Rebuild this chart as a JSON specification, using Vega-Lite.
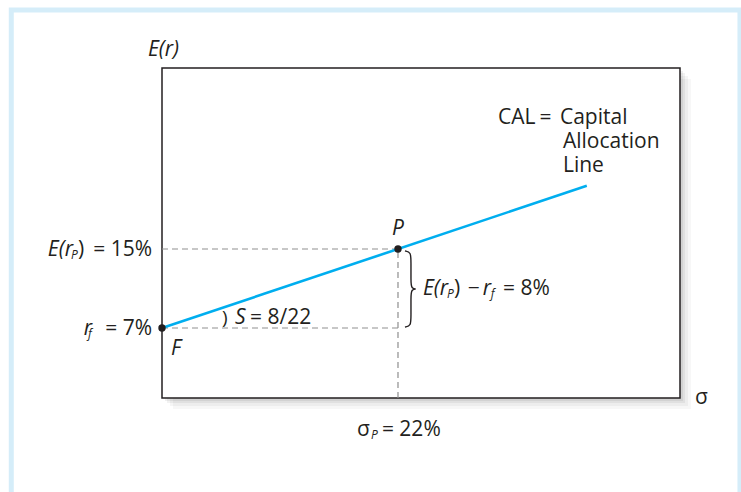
{
  "$schema": "https://vega.github.io/schema/vega-lite/v6.json",
  "width": 518,
  "height": 330,
  "autosize": {"type": "none"},
  "padding": {"left": 162, "top": 68, "right": 61, "bottom": 94},
  "background": "white",
  "config": {"view": {"stroke": null}},
  "datasets": {
    "frame": [{"s": -14.05, "s2": 53.88, "r": 39.2, "r2": -10.1}],
    "box": [{"s": 0, "s2": 48.29, "r": -0.09, "r2": 33.33}],
    "dash": [
      {"s": 0, "s2": 22, "r": 15, "r2": 15},
      {"s": 0, "s2": 22, "r": 7, "r2": 7},
      {"s": 22, "s2": 22, "r": -0.09, "r2": 15}
    ],
    "cal": [{"s": 0, "r": 7}, {"s": 39.6, "r": 21.4}],
    "brace": [
      {"i": 0, "s": 22.65, "r": 14.8},
      {"i": 1, "s": 23.21, "r": 14.7},
      {"i": 2, "s": 23.21, "r": 13.68},
      {"i": 3, "s": 23.21, "r": 11.86},
      {"i": 4, "s": 23.21, "r": 10.95},
      {"i": 5, "s": 23.87, "r": 10.95},
      {"i": 6, "s": 23.21, "r": 10.95},
      {"i": 7, "s": 23.21, "r": 10.04},
      {"i": 8, "s": 23.21, "r": 8.22},
      {"i": 9, "s": 23.21, "r": 7.2},
      {"i": 10, "s": 22.65, "r": 7.1}
    ],
    "pts": [{"s": 0, "r": 7}, {"s": 22, "r": 15}],
    "italicLeft": [
      {"t": "E(r", "s": 24.33, "r": 10.95},
      {"t": "r", "s": 29.9, "r": 10.95},
      {"t": "S", "s": 6.81, "r": 8.01},
      {"t": "F", "s": 0.84, "r": 4.87}
    ],
    "italicCenter": [
      {"t": "E(r)", "s": 0.14, "r": 35.15},
      {"t": "P", "s": 22.0, "r": 17.03}
    ],
    "italicRight": [
      {"t": "E(r", "s": -8.3, "r": 14.9},
      {"t": "r", "s": -6.53, "r": 6.9}
    ],
    "sub": [
      {"t": "P", "s": -8.48, "r": 14.39},
      {"t": "f", "s": -6.9, "r": 6.39},
      {"t": "P", "s": 26.57, "r": 10.44},
      {"t": "f", "s": 30.65, "r": 10.44},
      {"t": "P", "s": 19.48, "r": -3.84}
    ],
    "uprightLeft": [
      {"t": ")", "s": -7.83, "r": 14.9},
      {"t": ")", "s": 27.22, "r": 10.95},
      {"t": "−", "s": 28.5, "r": 10.95},
      {"t": "= 8%", "s": 31.8, "r": 10.95},
      {"t": "= 8/22", "s": 8.2, "r": 8.01},
      {"t": "CAL", "s": 31.32, "r": 28.27},
      {"t": "=", "s": 35.2, "r": 28.27},
      {"t": "Capital", "s": 37.1, "r": 28.27},
      {"t": "Allocation", "s": 37.38, "r": 25.84},
      {"t": "Line", "s": 37.38, "r": 23.4},
      {"t": "σ", "s": 49.69, "r": -0.09},
      {"t": "σ", "s": 18.18, "r": -3.33},
      {"t": "= 22%", "s": 20.5, "r": -3.33}
    ],
    "uprightRight": [
      {"t": "= 15%", "s": -0.93, "r": 14.9},
      {"t": "= 7%", "s": -0.93, "r": 6.9}
    ],
    "arc": [{"t": ")", "s": 5.59, "r": 8.01}]
  },
  "encoding": {
    "x": {"field": "s", "type": "quantitative", "scale": {"domain": [0, 48.29], "nice": false, "zero": false}, "axis": null},
    "y": {"field": "r", "type": "quantitative", "scale": {"domain": [-0.09, 33.33], "nice": false, "zero": false}, "axis": null}
  },
  "layer": [
    {"data": {"name": "frame"}, "mark": {"type": "rect", "fill": null, "stroke": "#d5edf9", "strokeWidth": 5}, "encoding": {"x2": {"field": "s2"}, "y2": {"field": "r2"}}},
    {"data": {"name": "box"}, "mark": {"type": "rect", "fill": "#000", "fillOpacity": 0.03, "xOffset": 11, "x2Offset": 11, "yOffset": 11, "y2Offset": 11}, "encoding": {"x2": {"field": "s2"}, "y2": {"field": "r2"}}},
    {"data": {"name": "box"}, "mark": {"type": "rect", "fill": "#000", "fillOpacity": 0.04, "xOffset": 8, "x2Offset": 8, "yOffset": 8, "y2Offset": 8}, "encoding": {"x2": {"field": "s2"}, "y2": {"field": "r2"}}},
    {"data": {"name": "box"}, "mark": {"type": "rect", "fill": "#000", "fillOpacity": 0.05, "xOffset": 5, "x2Offset": 5, "yOffset": 5, "y2Offset": 5}, "encoding": {"x2": {"field": "s2"}, "y2": {"field": "r2"}}},
    {"data": {"name": "box"}, "mark": {"type": "rect", "fill": "#000", "fillOpacity": 0.06, "xOffset": 3, "x2Offset": 3, "yOffset": 3, "y2Offset": 3}, "encoding": {"x2": {"field": "s2"}, "y2": {"field": "r2"}}},
    {"data": {"name": "box"}, "mark": {"type": "rect", "fill": "white", "stroke": "#231f20", "strokeWidth": 1.5}, "encoding": {"x2": {"field": "s2"}, "y2": {"field": "r2"}}},
    {"data": {"name": "dash"}, "mark": {"type": "rule", "color": "#8f8f8f", "strokeWidth": 1.2, "strokeDash": [6, 4]}, "encoding": {"x2": {"field": "s2"}, "y2": {"field": "r2"}}},
    {"data": {"name": "cal"}, "mark": {"type": "line", "color": "#00aeef", "strokeWidth": 2.6}, "encoding": {}},
    {"data": {"name": "brace"}, "mark": {"type": "line", "color": "#231f20", "strokeWidth": 1.4, "interpolate": "basis"}, "encoding": {"order": {"field": "i", "type": "quantitative"}}},
    {"data": {"name": "pts"}, "mark": {"type": "circle", "color": "#231f20", "size": 55, "opacity": 1}, "encoding": {}},
    {"data": {"name": "italicLeft"}, "mark": {"type": "text", "font": "Open Sans", "fontSize": 21, "fontStyle": "italic", "align": "left", "baseline": "middle", "color": "#231f20"}, "encoding": {"text": {"field": "t"}}},
    {"data": {"name": "italicCenter"}, "mark": {"type": "text", "font": "Open Sans", "fontSize": 21, "fontStyle": "italic", "align": "center", "baseline": "middle", "color": "#231f20"}, "encoding": {"text": {"field": "t"}}},
    {"data": {"name": "italicRight"}, "mark": {"type": "text", "font": "Open Sans", "fontSize": 21, "fontStyle": "italic", "align": "right", "baseline": "middle", "color": "#231f20"}, "encoding": {"text": {"field": "t"}}},
    {"data": {"name": "sub"}, "mark": {"type": "text", "font": "Open Sans", "fontSize": 12, "fontStyle": "italic", "align": "left", "baseline": "middle", "color": "#231f20"}, "encoding": {"text": {"field": "t"}}},
    {"data": {"name": "uprightLeft"}, "mark": {"type": "text", "font": "Open Sans", "fontSize": 21, "align": "left", "baseline": "middle", "color": "#231f20"}, "encoding": {"text": {"field": "t"}}},
    {"data": {"name": "uprightRight"}, "mark": {"type": "text", "font": "Open Sans", "fontSize": 21, "align": "right", "baseline": "middle", "color": "#231f20"}, "encoding": {"text": {"field": "t"}}},
    {"data": {"name": "arc"}, "mark": {"type": "text", "font": "Open Sans", "fontSize": 19, "align": "left", "baseline": "middle", "color": "#231f20"}, "encoding": {"text": {"field": "t"}}}
  ]
}
